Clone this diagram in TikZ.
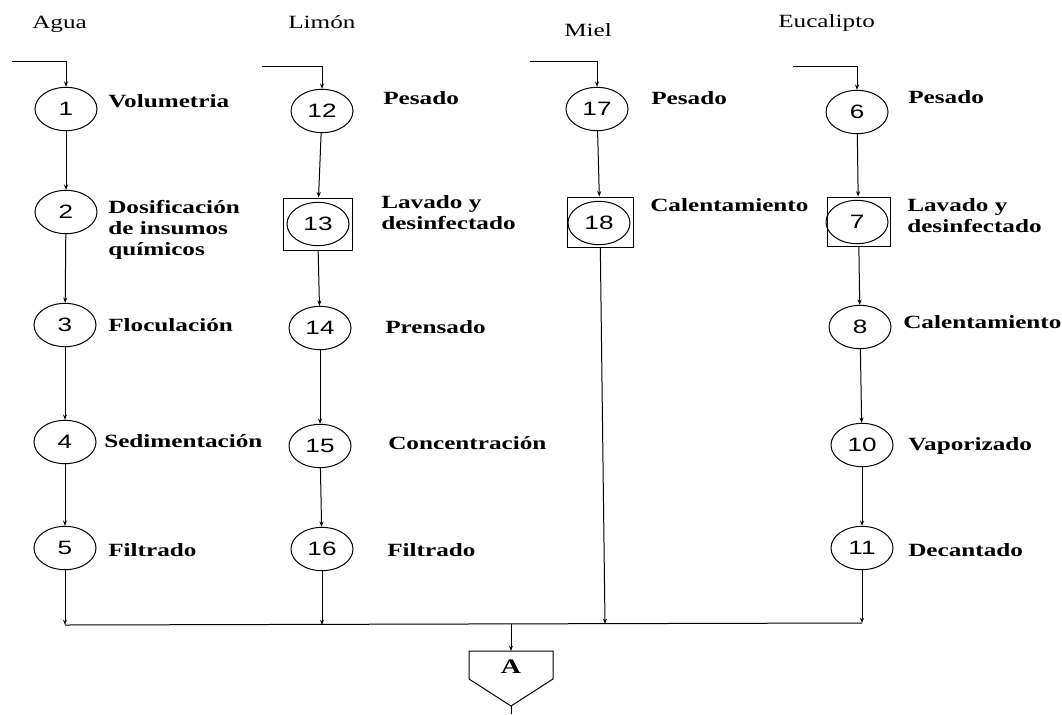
\documentclass[tikz,border=0pt]{standalone}
\usepackage{graphicx}
\usepackage{fontspec}
\setmainfont{Liberation Serif}
\newfontfamily\numfont{Liberation Sans}
\usetikzlibrary{arrows.meta,shapes.geometric}
\newcommand{\hs}[1]{\scalebox{1.35}[1]{#1}}
\newcommand{\lbl}[1]{\hs{\begin{tabular}[t]{@{}l@{}}#1\end{tabular}}}
\tikzset{
  proc/.style={ellipse, draw, line width=0.75pt, minimum width=46.5pt, minimum height=32.5pt, inner sep=0pt,
               font=\numfont\fontsize{14.5}{16}\selectfont},
  insp/.style={rectangle, draw, line width=0.75pt, inner sep=0pt},
  lab/.style={anchor=base west, inner sep=0pt, font=\fontsize{14}{15.75}\selectfont\bfseries},
  head/.style={anchor=base west, inner sep=0pt, font=\fontsize{14}{15.75}\selectfont},
  flow/.style={draw, line width=0.75pt, -{Stealth[length=4pt,width=3pt]}},
  plain/.style={draw, line width=0.75pt},
}
\begin{document}
\begin{tikzpicture}[x=0.75pt,y=-0.75pt]
\useasboundingbox (0,0) rectangle (1062,714);
\fill[white] (0,0) rectangle (1062,714);

% headers
\node[head] (hAgua) at (32,28) {\hs{Agua}};
\node[head] (hLimon) at (288,28) {\hs{Limón}};
\node[head] (hMiel) at (564,36) {\hs{Miel}};
\node[head] (hEuc) at (778,27) {\hs{Eucalipto}};

% inspection squares (drawn first)
\node[insp, minimum width=51.75pt, minimum height=39pt] (s13) at (317.5,224) {};
\node[insp, minimum width=49.5pt, minimum height=37.5pt] (s18) at (600,222) {};
\node[insp, minimum width=47.25pt, minimum height=36.75pt] (s7) at (858.5,221.5) {};

% column Agua
\node[proc] (c1) at (66,109) {\hs{1}};
\node[proc] (c2) at (66,212) {\hs{2}};
\node[proc] (c3) at (65,325) {\hs{3}};
\node[proc] (c4) at (65,442) {\hs{4}};
\node[proc] (c5) at (65,548) {\hs{5}};
% column Limon
\node[proc] (c12) at (322,111) {\hs{12}};
\node[proc] (c13) at (318,224) {\hs{13}};
\node[proc] (c14) at (320,328) {\hs{14}};
\node[proc] (c15) at (320,446) {\hs{15}};
\node[proc] (c16) at (322,549) {\hs{16}};
% column Miel
\node[proc] (c17) at (597,109) {\hs{17}};
\node[proc] (c18) at (599,223) {\hs{18}};
% column Eucalipto
\node[proc] (c6) at (857,112) {\hs{6}};
\node[proc] (c7) at (857,222) {\hs{7}};
\node[proc] (c8) at (860,327) {\hs{8}};
\node[proc] (c10) at (862,445) {\hs{10}};
\node[proc] (c11) at (862,548) {\hs{11}};

% labels
\node[lab] (l1) at (108,107) {\lbl{Volumetria}};
\node[lab] (l2) at (108,213) {\lbl{Dosificación\\de insumos\\químicos}};
\node[lab] (l3) at (108,331) {\lbl{Floculación}};
\node[lab] (l4) at (104,447) {\lbl{Sedimentación}};
\node[lab] (l5) at (108,556) {\lbl{Filtrado}};
\node[lab] (l12) at (383,104) {\lbl{Pesado}};
\node[lab] (l13) at (381,208) {\lbl{Lavado y\\desinfectado}};
\node[lab] (l14) at (385,333) {\lbl{Prensado}};
\node[lab] (l15) at (388,449) {\lbl{Concentración}};
\node[lab] (l16) at (387,556) {\lbl{Filtrado}};
\node[lab] (l17) at (651,104) {\lbl{Pesado}};
\node[lab] (l18) at (650,211) {\lbl{Calentamiento}};
\node[lab] (l6) at (908,103) {\lbl{Pesado}};
\node[lab] (l7) at (907,211) {\lbl{Lavado y\\desinfectado}};
\node[lab] (l8) at (903,328) {\lbl{Calentamiento}};
\node[lab] (l10) at (908,450) {\lbl{Vaporizado}};
\node[lab] (l11) at (908,556) {\lbl{Decantado}};

% entries
\coordinate (eA) at (12,61);
\coordinate (eL) at (262,66);
\coordinate (eM) at (530,61);
\coordinate (eE) at (793,66);
\draw[flow] (eA) -| (c1);
\draw[flow] (eL) -| (c12);
\draw[flow] (eM) -| (c17);
\draw[flow] (eE) -| (c6);

% column flows
\draw[flow] (c1) -- (c2);
\draw[flow] (c2) -- (c3);
\draw[flow] (c3) -- (c4);
\draw[flow] (c4) -- (c5);
\draw[flow] (c12) -- (s13);
\draw[flow] (s13) -- (c14);
\draw[flow] (c14) -- (c15);
\draw[flow] (c15) -- (c16);
\draw[flow] (c17) -- (s18);
\draw[flow] (c6) -- (s7);
\draw[flow] (s7) -- (c8);
\draw[flow] (c8) -- (c10);
\draw[flow] (c10) -- (c11);

% bus
\coordinate (b1) at (65,625);
\coordinate (b2) at (322,625);
\coordinate (b3) at (605,624);
\coordinate (b4) at (862,623);
\coordinate (bm) at (511,624);
\draw[plain] (b1) -- (b4);
\draw[flow] (c5) -- (b1);
\draw[flow] (c16) -- (b2);
\draw[flow] (s18) -- (b3);
\draw[flow] (c11) -- (b4);

% storage pentagon
\coordinate (p1) at (469,651);
\coordinate (p2) at (553,651);
\coordinate (p3) at (553,679);
\coordinate (p4) at (511,706);
\coordinate (p5) at (469,679);
\coordinate (pt) at (511,651);
\coordinate (pout) at (511,714);
\draw[plain] (p1) -- (p2) -- (p3) -- (p4) -- (p5) -- cycle;
\node[inner sep=0pt, font=\fontsize{15.5}{17}\selectfont\bfseries] (A) at (511,667) {\hs{A}};
\draw[flow] (bm) -- (pt);
\draw[plain] (p4) -- (pout);
\end{tikzpicture}
\end{document}
